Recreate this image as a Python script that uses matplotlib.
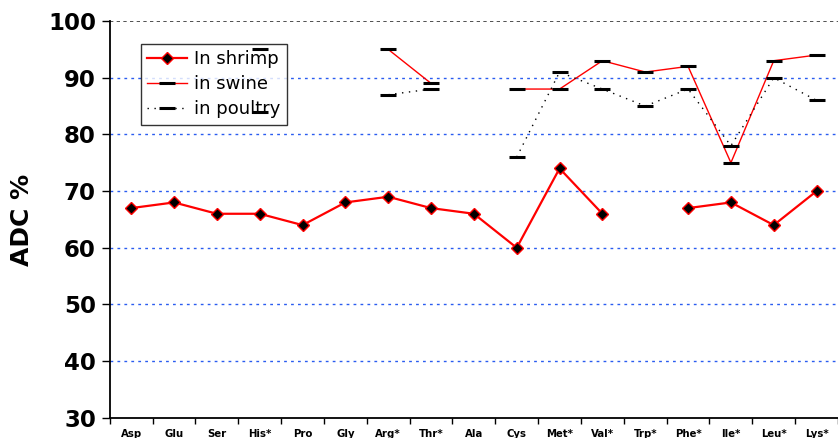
import numpy as np
import matplotlib
matplotlib.use("Agg")
import matplotlib.pyplot as plt

amino = ["Asp", "Glu", "Ser", "His*", "Pro", "Gly", "Arg*", "Thr*", "Ala",
         "Cys", "Met*", "Val*", "Trp*", "Phe*", "Ile*", "Leu*", "Lys*"]
nan = np.nan
shrimp = [67, 68, 66, 66, 64, 68, 69, 67, 66, 60, 74, 66, nan, 67, 68, 64, 70]
swine = [nan, nan, nan, 95, nan, nan, 95, 89, nan, 88, 88, 93, 91, 92, 75, 93, 94]
poultry = [nan, nan, nan, 84, nan, nan, 87, 88, nan, 76, 91, 88, 85, 88, 78, 90, 86]


def main():
    fig = plt.figure(figsize=(8.38, 4.38), dpi=100)
    ax = fig.add_axes([0.131, 0.046, 0.869, 0.906])
    x = np.arange(len(amino))

    for yv in range(40, 100, 10):
        ax.axhline(yv, color="#2a5cf0", linestyle=(0, (2, 3)), linewidth=1, zorder=0)
    ax.axhline(100, color="#333333", linestyle=(0, (2, 2)), linewidth=1.2, zorder=0)

    ax.plot(x, shrimp, color="red", linewidth=1.6, marker="D", markersize=6,
            markerfacecolor="black", markeredgecolor="red", markeredgewidth=1,
            label="In shrimp", zorder=4)
    ax.plot(x, swine, color="red", linewidth=1, marker="_", markersize=11,
            markeredgecolor="black", markeredgewidth=2.2, label="in swine", zorder=3)
    ax.plot(x, poultry, color="black", linewidth=1, linestyle=(0, (1, 4)), marker="_",
            markersize=11, markeredgecolor="black", markeredgewidth=2.2,
            label="in poultry", zorder=3)

    ax.set_xlim(-0.5, len(amino) - 0.5)
    ax.set_ylim(30, 100)
    ax.set_yticks(range(30, 101, 10))
    ax.set_yticklabels([str(v) for v in range(30, 101, 10)], fontsize=16.5, fontweight="bold")
    ax.tick_params(axis="y", direction="out", length=6, width=1, pad=4)

    ax.set_xticks(x)
    ax.set_xticklabels(amino, fontsize=7.3, fontweight="bold")
    ax.set_xticks(np.arange(-0.5, len(amino), 1), minor=True)
    ax.tick_params(axis="x", which="major", length=0, pad=8)
    ax.tick_params(axis="x", which="minor", direction="out", length=4, width=1)

    ax.set_ylabel("ADC %", fontsize=18, fontweight="bold", labelpad=10)

    for s in ["top", "right"]:
        ax.spines[s].set_visible(False)
    ax.spines["left"].set_linewidth(1.3)
    ax.spines["bottom"].set_linewidth(1.3)

    leg = ax.legend(loc="upper left", bbox_to_anchor=(0.043, 0.943), borderaxespad=0,
                    fontsize=13, frameon=True, fancybox=False, edgecolor="black",
                    borderpad=0.35, labelspacing=0.4, handlelength=2.2,
                    handletextpad=0.4)
    leg.get_frame().set_linewidth(1)
    leg.set_zorder(2.5)  # isolated His* marks sit on top of the legend box

    fig.savefig("out.png", dpi=100)


if __name__ == "__main__":
    main()
